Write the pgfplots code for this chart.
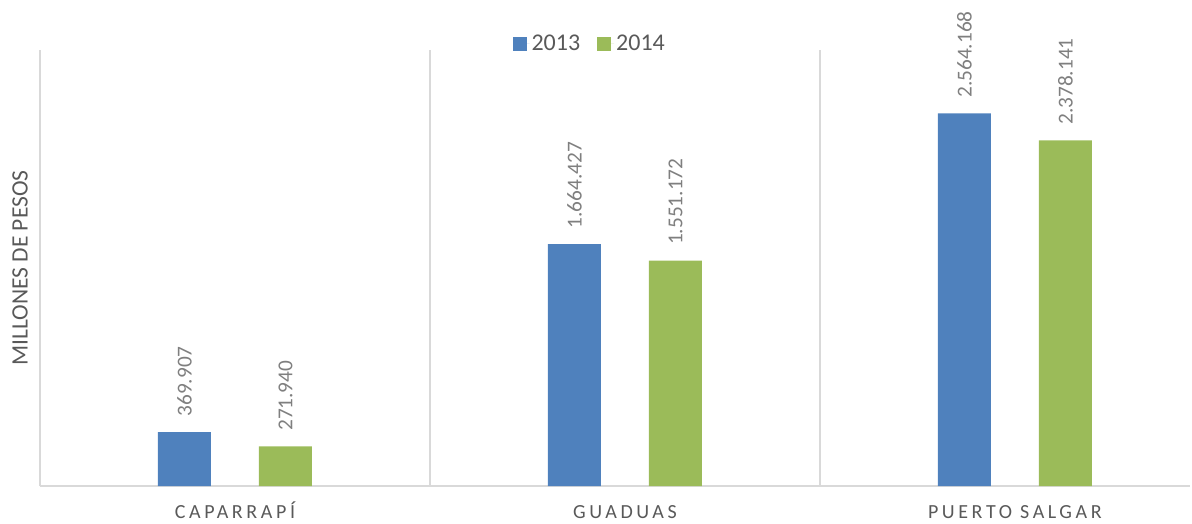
\documentclass[border=0pt]{standalone}
\usepackage{fontspec}
\setmainfont{Carlito}
\usepackage{pgfplots}
\pgfplotsset{compat=1.18}
\definecolor{cblue}{HTML}{4F81BD}
\definecolor{cgreen}{HTML}{9BBB59}
\definecolor{gridc}{HTML}{D9D9D9}
\definecolor{labc}{HTML}{595959}
\definecolor{valc}{HTML}{7F7F7F}
\begin{document}
\begin{tikzpicture}
\useasboundingbox (0,0) rectangle (1192pt,523pt);
\begin{axis}[
 at={(40pt,37pt)}, anchor=south west,
 scale only axis, width=1150pt, height=436pt,
 xmin=-0.5, xmax=2.449, ymin=0, ymax=3000000,
 ybar=48pt, bar width=53pt,
 axis x line*=bottom, axis y line*=left,
 axis line style={gridc, line width=1.2pt, -},
 ytick=\empty,
 xtick={0,1,2}, xticklabels={CAPARRAPÍ,GUADUAS,PUERTO SALGAR},
 major tick length=0pt,
 minor xtick={0.5,1.5}, xminorgrids, minor tick length=0pt,
 minor grid style={gridc, line width=1.2pt},
 xticklabel style={font=\fontsize{20}{21}\selectfont\addfontfeatures{LetterSpace=18}, text=labc, anchor=north, inner sep=0pt, text height=13pt, yshift=-19pt},
 ylabel={MILLONES DE PESOS},
 ylabel style={font=\fontsize{23.5}{24}\selectfont, text=labc, at={(axis description cs:-0.0174,0.5)}, anchor=center},
 nodes near coords, point meta=explicit symbolic,
 every node near coord/.append style={font=\fontsize{21.3}{22}\selectfont, text=valc, rotate=90, anchor=west, inner xsep=15.5pt},
 legend style={at={(0.478,1.014)}, anchor=center, draw=none, fill=none, legend columns=-1, font=\fontsize{24}{25}\selectfont, text=labc, /tikz/every even column/.append style={column sep=15pt}},
 legend image code/.code={\fill[#1] (0pt,-7pt) rectangle (14pt,7pt); \path (14pt,0pt) -- (17pt,0pt);},
]
\addplot[fill=cblue, draw=none] coordinates {(0,369907) [369.907] (1,1664427) [1.664.427] (2,2564168) [2.564.168]};
\addplot[fill=cgreen, draw=none] coordinates {(0,271940) [271.940] (1,1551172) [1.551.172] (2,2378141) [2.378.141]};
\legend{2013,2014}
\end{axis}
\end{tikzpicture}
\end{document}
